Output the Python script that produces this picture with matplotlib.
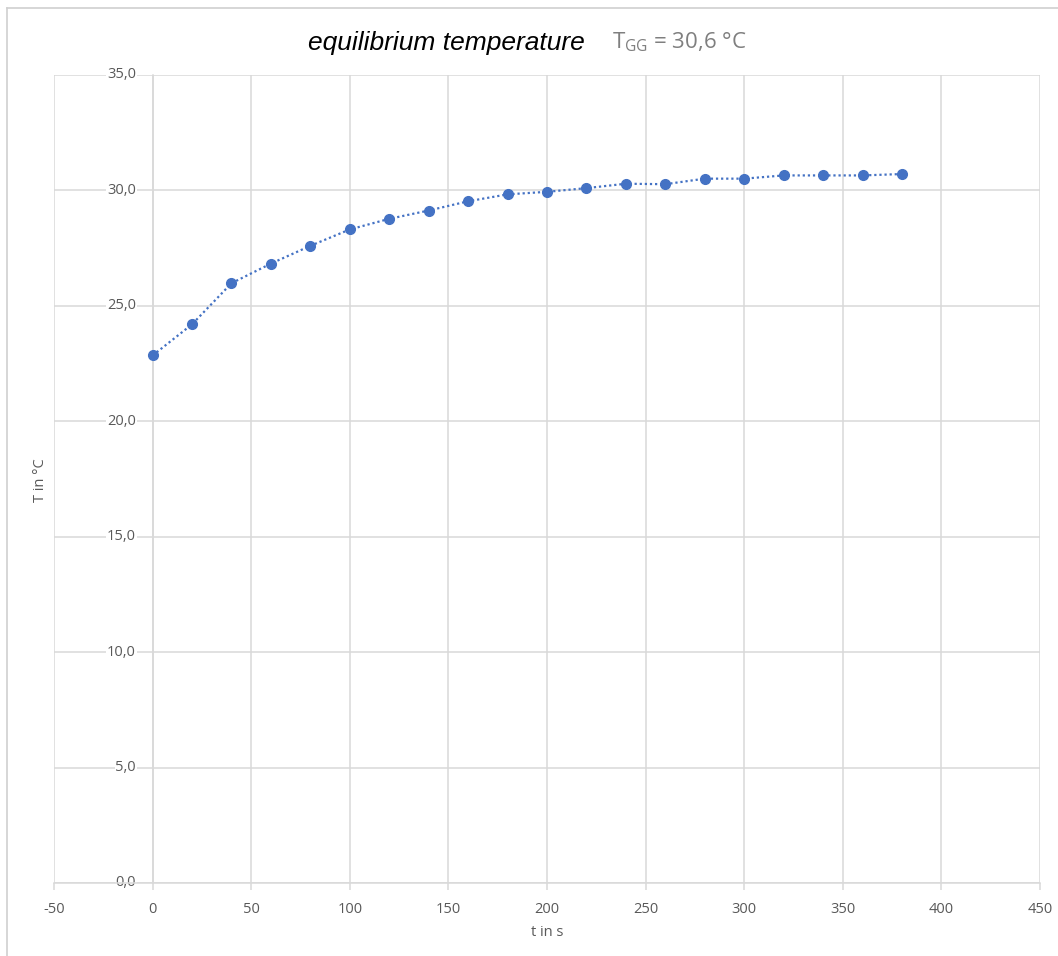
import matplotlib
matplotlib.use("Agg")
import matplotlib.pyplot as plt
from matplotlib.lines import Line2D

# ---- data ----
t_s = [0, 20, 40, 60, 80, 100, 120, 140, 160, 180, 200, 220, 240, 260, 280,
       300, 320, 340, 360, 380]
temp_c = [22.85, 24.20, 25.98, 26.83, 27.60, 28.31, 28.77, 29.13, 29.53, 29.83,
          29.94, 30.10, 30.29, 30.27, 30.51, 30.51, 30.65, 30.65, 30.65, 30.71]
x_ticks = [-50, 0, 50, 100, 150, 200, 250, 300, 350, 400, 450]
y_ticks = [0, 5, 10, 15, 20, 25, 30, 35]
y_tick_labels = ["0,0", "5,0", "10,0", "15,0", "20,0", "25,0", "30,0", "35,0"]
title_main = "equilibrium temperature"
title_eq = r"$\mathrm{T_{GG}}$ = 30,6 °C"
x_label = "t in s"
y_label = "T in °C"

plt.rcParams["mathtext.fontset"] = "custom"
plt.rcParams["mathtext.rm"] = "Open Sans"
plt.rcParams["font.family"] = ["Open Sans", "DejaVu Sans"]
plt.rcParams["axes.unicode_minus"] = False

W, H = 1058, 956
fig = plt.figure(figsize=(W / 100, H / 100), dpi=100)
fig.patch.set_facecolor("white")

ax = fig.add_axes([54 / W, 1 - 883 / H, (1040 - 54) / W, (883 - 75) / H])

grid_c = "#d9d9d9"
text_c = "#595959"
blue = "#4472C4"

ax.plot(t_s, temp_c, linestyle=(0, (1, 1.3)), linewidth=1.6, color=blue,
        marker="o", markersize=7, markerfacecolor=blue, markeredgecolor=blue,
        zorder=3)

ax.set_xlim(-50, 450)
ax.set_ylim(0, 35)
ax.set_xticks(x_ticks)
ax.set_yticks(y_ticks)
ax.set_yticklabels(y_tick_labels)
ax.grid(True, color=grid_c, linewidth=1.1)
ax.set_axisbelow(True)

for s in ["top", "right"]:
    ax.spines[s].set_visible(False)
ax.spines["bottom"].set_color(grid_c)
ax.spines["bottom"].set_linewidth(1.1)
ax.spines["left"].set_position(("data", 0))
ax.spines["left"].set_color(grid_c)
ax.spines["left"].set_linewidth(1.1)

ax.tick_params(axis="x", colors=grid_c, length=5, width=1.1, pad=9,
               labelcolor=text_c, labelsize=10.5)
ax.tick_params(axis="y", length=0, pad=12, labelcolor=text_c, labelsize=10.5)
for lab in ax.get_yticklabels():
    lab.set_bbox(dict(facecolor="white", edgecolor="none", pad=0.5))
    lab.set_verticalalignment("center")

fig.text(547 / W, 1 - 933 / H, x_label, ha="center", va="center",
         color=text_c, fontsize=10.5)
fig.text(40 / W, 1 - 480 / H, y_label, ha="center", va="center",
         rotation=90, color=text_c, fontsize=10.5)

fig.text(308 / W, 1 - 50 / H, title_main, ha="left", va="baseline",
         fontsize=19, style="italic", color="black",
         family=["Liberation Sans", "DejaVu Sans"])
fig.text(612 / W, 1 - 48 / H, title_eq, ha="left", va="baseline",
         fontsize=16, color="#7f7f7f")

# outer chart frame (top and left edges visible)
fig.add_artist(Line2D([7 / W, 1], [1 - 8 / H, 1 - 8 / H], color="#d0d0d0",
                      linewidth=1.2, transform=fig.transFigure))
fig.add_artist(Line2D([7 / W, 7 / W], [0, 1 - 8 / H], color="#d0d0d0",
                      linewidth=1.2, transform=fig.transFigure))

fig.savefig("out.png", dpi=100)
